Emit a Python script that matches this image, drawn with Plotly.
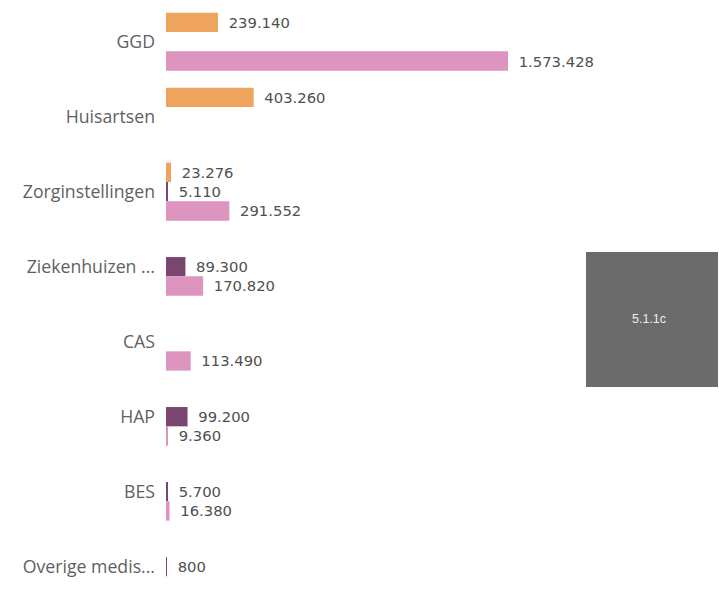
import plotly.graph_objects as go

categories = ["GGD", "Huisartsen", "Zorginstellingen", "Ziekenhuizen ...", "CAS", "HAP", "BES", "Overige medis..."]
series_names = ["Oranje", "Paars", "Roze"]
orange_vals = [239140, 403260, 23276, None, None, None, None, None]
purple_vals = [None, None, 5110, 89300, None, 99200, 5700, 800]
pink_vals = [1573428, None, 291552, 170820, 113490, 9360, 16380, None]
colors = ["#EFA45E", "#7A4670", "#DD95C0"]
box_label = "5.1.1c"

W, H = 719, 596
L = 166

fig = go.Figure()
for name, vals, col in zip(series_names, [orange_vals, purple_vals, pink_vals], colors):
    fig.add_trace(go.Bar(
        y=categories, x=vals, name=name, orientation="h",
        marker=dict(color=col, line=dict(width=0)),
        text=vals, texttemplate="\u00a0\u2009%{x:,.0f}", textposition="outside",
        textfont=dict(family="DejaVu Sans", size=14.8, color="#505050"),
        cliponaxis=False,
    ))

pw = W - L
fig.update_layout(
    width=W, height=H,
    margin=dict(l=L, r=0, t=0, b=0),
    paper_bgcolor="white", plot_bgcolor="white",
    barmode="group", bargap=0.228, bargroupgap=0,
    separators=",.",
    showlegend=False,
    xaxis=dict(range=[0, 2544000], visible=False),
    yaxis=dict(categoryorder="array", categoryarray=categories,
               range=[7.391, -0.556], showgrid=False, zeroline=False,
               showline=False, ticks="", ticklabelstandoff=10,
               tickfont=dict(family="Open Sans", size=17.7, color="#5f5f5f")),
    shapes=[dict(type="rect", xref="paper", yref="paper",
                 x0=(586 - L) / pw, x1=(718 - L) / pw,
                 y0=1 - 387 / H, y1=1 - 252 / H,
                 fillcolor="#6B6B6B", line=dict(width=0), layer="above")],
    annotations=[dict(text=box_label, xref="paper", yref="paper",
                      x=(649 - L) / pw, y=1 - 319 / H, showarrow=False,
                      xanchor="center", yanchor="middle",
                      font=dict(family="Liberation Sans", size=12.5, color="#EEEEEE"))],
)

fig.write_html("out.html", config={"displayModeBar": False},
               post_script="document.body.style.margin='0px';document.body.style.overflow='hidden';")
